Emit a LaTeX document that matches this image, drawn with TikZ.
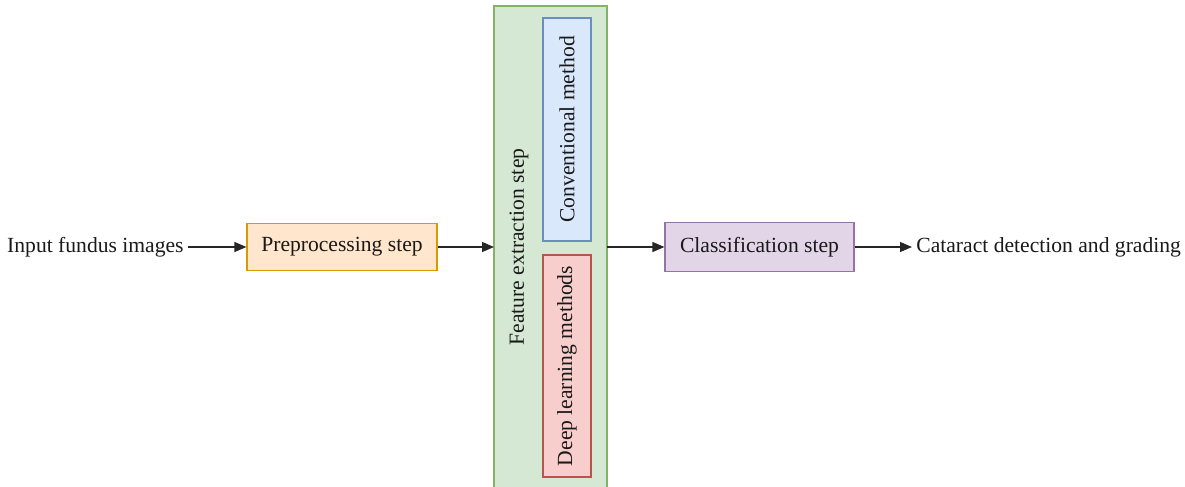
\documentclass[tikz,border=0pt]{standalone}
\usepackage{fontspec}
\setmainfont{Liberation Serif}
\usetikzlibrary{arrows.meta}
\definecolor{orF}{HTML}{FFE6CC}\definecolor{orD}{HTML}{D79B00}
\definecolor{grF}{HTML}{D5E8D4}\definecolor{grD}{HTML}{82B366}
\definecolor{blF}{HTML}{DAE8FC}\definecolor{blD}{HTML}{6C8EBF}
\definecolor{rdF}{HTML}{F8CECC}\definecolor{rdD}{HTML}{B85450}
\definecolor{puF}{HTML}{E1D5E7}\definecolor{puD}{HTML}{9673A6}
\begin{document}
\begin{tikzpicture}[x=0.5pt,y=-0.5pt,
  box/.style={draw=#1D,fill=#1F,line width=0.6pt,inner sep=0pt},
  arr/.style={-{Triangle[length=6pt,width=5pt]},line width=0.6pt,black!85},
  txt/.style={font=\fontsize{10.8}{13}\selectfont,text=black!90}]
\useasboundingbox (0,0) rectangle (1185,487);
% green container
\fill[grF] (494,6) rectangle (607,490);
\draw[grD,line width=0.6pt] (494,490) -- (494,6) -- (607,6) -- (607,490);
\coordinate (feL) at (494,247);
\coordinate (feR) at (607,247);
\node[txt,rotate=90] (fe) at (519,247) {Feature extraction step};
\node[box=bl,minimum width=24pt,minimum height=111.5pt] (conv) at (567,129.5) {};
\node[txt,rotate=90] at (conv.center) {Conventional method};
\node[box=rd,minimum width=24pt,minimum height=111pt] (deep) at (567,366) {};
\node[txt,rotate=90] at (deep.center) {Deep learning methods};
% boxes
\node[box=or,minimum width=95pt,minimum height=23.5pt,txt] (pre) at (342,247) {Preprocessing step};
\node[box=pu,minimum width=94.5pt,minimum height=24.5pt,txt] (cls) at (759.5,247) {Classification step};
\node[txt,anchor=east,inner sep=2pt] (in) at (188,247) {Input fundus images};
\node[txt,anchor=west,inner sep=2pt] (out) at (912,247) {Cataract detection and grading};
\draw[arr] (in.east) -- (pre.west);
\draw[arr] (pre.east) -- (feL);
\draw[arr] (feR) -- (cls.west);
\draw[arr] (cls.east) -- (out.west);
\end{tikzpicture}
\end{document}
